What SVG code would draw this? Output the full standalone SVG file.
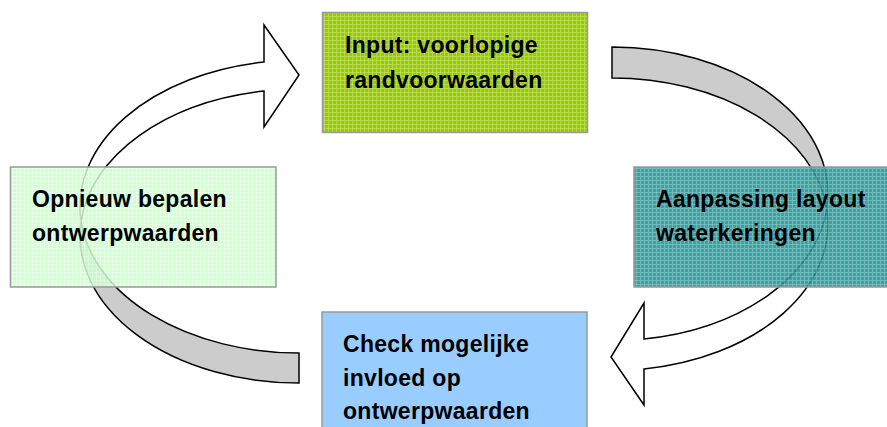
<svg xmlns="http://www.w3.org/2000/svg" width="887" height="427" viewBox="0 0 887 427">
<defs>
<pattern id="pGreen" width="4" height="4" patternUnits="userSpaceOnUse">
<rect width="4" height="4" fill="#99cc00"/>
<rect width="4" height="1" fill="#c2e060" opacity="0.7"/>
<rect width="1" height="4" fill="#c2e060" opacity="0.7"/>
</pattern>
<pattern id="pLight" width="4" height="4" patternUnits="userSpaceOnUse">
<rect width="4" height="4" fill="#c8ffc8"/>
<rect width="4" height="1" fill="#e6ffe6" opacity="0.8"/>
<rect width="1" height="4" fill="#e6ffe6" opacity="0.8"/>
</pattern>
<pattern id="pTeal" width="4" height="4" patternUnits="userSpaceOnUse">
<rect width="4" height="4" fill="#259292"/>
<rect width="4" height="1" fill="#66b6b6" opacity="0.8"/>
<rect width="1" height="4" fill="#66b6b6" opacity="0.8"/>
</pattern>
<style>
.box{stroke:#999999;stroke-width:1.5}
.lbl{font-family:"Liberation Sans",Arial,sans-serif;font-weight:bold;font-size:23px;letter-spacing:0.3px;fill:#000}
.front{fill:#ffffff;stroke:#000;stroke-width:1.5;stroke-linejoin:miter}
.back{fill:#cccccc;stroke:#000;stroke-width:1.5;stroke-linejoin:miter}
</style>
</defs>
<g id="connectors">
<g id="arrow-left">
<path class="back" d="M 81.1,221.28 A 219,146.44 0 0,0 299,353 L 299,383 A 219,146.94 0 0,1 81.1,221.28 Z"/>
<path class="front" d="M 264,62 A 219,146.44 0 0,0 81.1,221.28 A 219,146.94 0 0,1 264,91 L 264,127 L 299,75 L 264,25 Z"/>
</g>
<g id="arrow-right">
<path class="back" d="M 612,47 A 216,146.81 0 0,1 826.8,209.09 A 216,146.31 0 0,0 612,78 Z"/>
<path class="front" d="M 826.8,209.09 A 216,146.81 0 0,1 644,339 L 644,303 L 611,357 L 644,405 L 644,369 A 216,146.31 0 0,0 826.8,209.09 Z"/>
</g>
</g>
<g id="node-input">
<rect class="box" x="322.5" y="12.5" width="265" height="120" fill="url(#pGreen)"/>
<text class="lbl" x="345" y="53">Input: voorlopige</text>
<text class="lbl" x="345" y="87.5">randvoorwaarden</text>
</g>
<g id="node-opnieuw">
<rect class="box" x="10.5" y="167" width="265.5" height="120" fill="url(#pLight)" fill-opacity="0.85"/>
<text class="lbl" x="32" y="207">Opnieuw bepalen</text>
<text class="lbl" x="32" y="241">ontwerpwaarden</text>
</g>
<g id="node-aanpassing">
<rect class="box" x="634" y="167" width="270" height="120" fill="url(#pTeal)" fill-opacity="0.88"/>
<text class="lbl" x="656" y="207">Aanpassing layout</text>
<text class="lbl" x="656" y="241">waterkeringen</text>
</g>
<g id="node-check">
<rect class="box" x="322" y="312" width="265" height="130" fill="#99ccff"/>
<text class="lbl" x="343" y="352">Check mogelijke</text>
<text class="lbl" x="343" y="386">invloed op</text>
<text class="lbl" x="343" y="419">ontwerpwaarden</text>
</g>
</svg>
